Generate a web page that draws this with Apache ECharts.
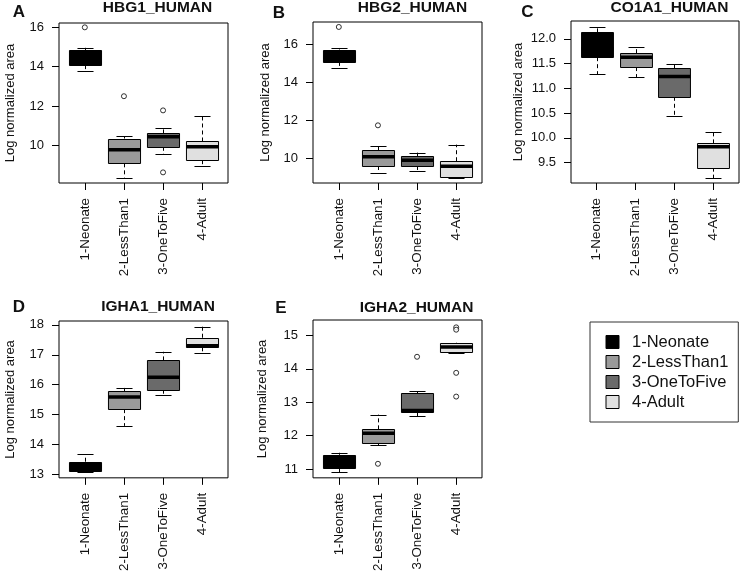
<!DOCTYPE html>
<html>
<head>
<meta charset="utf-8">
<script src="https://cdn.jsdelivr.net/npm/echarts@6/dist/echarts.min.js"></script>
<style>html,body{margin:0;padding:0;background:#fff}#c{width:740px;height:574px}</style>
</head>
<body>
<div id="c"></div>
<script>
// ---- data ----
const groups = ['1-Neonate', '2-LessThan1', '3-OneToFive', '4-Adult'];
const groupColors = ['#000000', '#9a9a9a', '#6a6a6a', '#e0e0e0'];
const panelTitles = ['HBG1_HUMAN', 'HBG2_HUMAN', 'CO1A1_HUMAN', 'IGHA1_HUMAN', 'IGHA2_HUMAN'];
const panelLetters = ['A', 'B', 'C', 'D', 'E'];
const yLabel = 'Log normalized area';

// box stats per group: [lower whisker, Q1, median, Q3, upper whisker]
const hbg1Stats = [[13.78, 14.08, 14.2, 14.85, 14.96], [8.36, 9.09, 9.78, 10.35, 10.47], [9.54, 9.93, 10.44, 10.61, 10.86], [8.96, 9.25, 9.93, 10.2, 11.5]];
const hbg2Stats = [[14.74, 15.06, 15.3, 15.71, 15.79], [9.25, 9.61, 10.1, 10.43, 10.66], [9.34, 9.61, 9.91, 10.12, 10.31], [8.98, 9.04, 9.6, 9.86, 10.73]];
const co1a1Stats = [[11.29, 11.63, 11.8, 12.13, 12.24], [11.23, 11.43, 11.63, 11.71, 11.83], [10.44, 10.83, 11.24, 11.41, 11.49], [9.19, 9.40, 9.82, 9.89, 10.12]];
const igha1Stats = [[13.07, 13.10, 13.25, 13.42, 13.67], [14.62, 15.18, 15.59, 15.78, 15.89], [15.64, 15.83, 16.25, 16.81, 17.1], [17.06, 17.25, 17.30, 17.57, 17.94]];
const igha2Stats = [[10.91, 11.03, 11.2, 11.43, 11.49], [11.72, 11.78, 12.07, 12.19, 12.63], [12.58, 12.70, 12.75, 13.27, 13.33], [14.47, 14.49, 14.65, 14.76, 14.78]];

// outliers: [group number, value]
const hbg1Outliers = [[1, 16.0], [2, 12.5], [3, 11.78], [3, 8.63]];
const hbg2Outliers = [[1, 16.89], [2, 11.74]];
const co1a1Outliers = [];
const igha1Outliers = [];
const igha2Outliers = [[2, 11.16], [3, 14.36], [4, 15.24], [4, 15.17], [4, 13.88], [4, 13.17]];

// y axis ranges and ticks
const yRanges = [[8.09, 16.22], [8.72, 17.15], [9.09, 12.36], [12.88, 18.13], [10.74, 15.46]];
const yTicks = [[10, 12, 14, 16], [10, 12, 14, 16], [9.5, 10, 10.5, 11, 11.5, 12], [13, 14, 15, 16, 17, 18], [11, 12, 13, 14, 15]];
const yTickDecimals = [0, 0, 1, 0, 0];

const allStats = [hbg1Stats, hbg2Stats, co1a1Stats, igha1Stats, igha2Stats];
const allOutliers = [hbg1Outliers, hbg2Outliers, co1a1Outliers, igha1Outliers, igha2Outliers];

// ---- layout (styling only) ----
const FONT = 'Liberation Sans, Arial, Helvetica, sans-serif';
const grids = [
  {left: 59, top: 23, width: 169, height: 160},
  {left: 313, top: 22, width: 169, height: 161},
  {left: 571, top: 21, width: 168, height: 162},
  {left: 59, top: 321, width: 169, height: 162},
  {left: 313, top: 320, width: 169, height: 163}
];
const nameGaps = [42.5, 41.5, 46.5, 42.5, 44.5];
const titlePos = [[157.5, 7.5], [412.5, 7.5], [669.5, 7.5], [158, 307], [416.5, 308]];
const letterPos = [[19, 12.5], [279, 13], [527.5, 12.5], [19, 307], [281, 308]];

const BOX_W = 0.82;
const STAPLE_W = 0.41;

function renderBox(params, api) {
  const x = api.value(0);
  const lo = api.coord([x, api.value(1)]);
  const q1 = api.coord([x, api.value(2)]);
  const md = api.coord([x, api.value(3)]);
  const q3 = api.coord([x, api.value(4)]);
  const hi = api.coord([x, api.value(5)]);
  const bw = api.size([BOX_W, 0])[0];
  const sw = api.size([STAPLE_W, 0])[0];
  const cx = Math.round(lo[0]) + 0.5;
  const fill = api.visual('color');
  const ln = {stroke: '#000', lineWidth: 1};
  const dash = {stroke: '#000', lineWidth: 1, lineDash: [4, 3]};
  return {
    type: 'group',
    children: [
      {type: 'line', shape: {x1: cx, y1: q3[1], x2: cx, y2: hi[1]}, style: dash},
      {type: 'line', shape: {x1: cx, y1: q1[1], x2: cx, y2: lo[1]}, style: dash},
      {type: 'line', shape: {x1: cx - sw / 2, y1: Math.round(hi[1]) + 0.5, x2: cx + sw / 2, y2: Math.round(hi[1]) + 0.5}, style: ln},
      {type: 'line', shape: {x1: cx - sw / 2, y1: Math.round(lo[1]) + 0.5, x2: cx + sw / 2, y2: Math.round(lo[1]) + 0.5}, style: ln},
      {type: 'rect', shape: {x: cx - bw / 2, y: Math.round(q3[1]) + 0.5, width: bw, height: Math.round(q1[1]) - Math.round(q3[1])}, style: {fill: fill, stroke: '#000', lineWidth: 1}},
      {type: 'line', shape: {x1: cx - bw / 2, y1: md[1], x2: cx + bw / 2, y2: md[1]}, style: {stroke: '#000', lineWidth: 3.5}}
    ]
  };
}

const gridOpts = [], xAxes = [], yAxes = [], series = [], graphics = [];
for (let p = 0; p < 5; p++) {
  gridOpts.push(Object.assign({show: true, borderColor: '#000', borderWidth: 1, backgroundColor: 'transparent'}, grids[p]));
  xAxes.push({
    type: 'value', gridIndex: p, min: 0.34, max: 4.66,
    axisLine: {show: false}, splitLine: {show: false},
    axisTick: {show: true, customValues: [1, 2, 3, 4], length: 7, lineStyle: {color: '#000'}},
    axisLabel: {show: true, customValues: [1, 2, 3, 4], rotate: 90, margin: 15, color: '#111',
      fontFamily: FONT, fontSize: 13.4, formatter: v => groups[Math.round(v) - 1]}
  });
  const dec = yTickDecimals[p];
  yAxes.push({
    type: 'value', gridIndex: p, min: yRanges[p][0], max: yRanges[p][1],
    axisLine: {show: false}, splitLine: {show: false},
    axisTick: {show: true, customValues: yTicks[p], length: 7, lineStyle: {color: '#000'}},
    axisLabel: {show: true, customValues: yTicks[p], margin: 15, color: '#111', fontFamily: FONT, fontSize: 13,
      formatter: v => Number(v).toFixed(dec)},
    name: yLabel, nameLocation: 'middle', nameRotate: 90, nameGap: nameGaps[p],
    nameTextStyle: {fontFamily: FONT, fontSize: 13, color: '#111'}
  });
  allStats[p].forEach((s, g) => {
    series.push({
      type: 'custom', name: groups[g], xAxisIndex: p, yAxisIndex: p,
      itemStyle: {color: groupColors[g]},
      renderItem: renderBox,
      encode: {x: 0, y: [1, 2, 3, 4, 5]},
      data: [[g + 1].concat(s)],
      z: 2
    });
  });
  series.push({
    type: 'scatter', name: 'outliers' + p, xAxisIndex: p, yAxisIndex: p,
    symbol: 'circle', symbolSize: 5,
    itemStyle: {color: '#fff', borderColor: '#000', borderWidth: 1},
    data: allOutliers[p], z: 3
  });
  graphics.push({type: 'text', x: titlePos[p][0], y: titlePos[p][1],
    style: {text: panelTitles[p], font: 'bold 15.5px ' + FONT, fill: '#111', align: 'center', verticalAlign: 'middle', textAlign: 'center', textVerticalAlign: 'middle'}});
  graphics.push({type: 'text', x: letterPos[p][0], y: letterPos[p][1],
    style: {text: panelLetters[p], font: 'bold 17px ' + FONT, fill: '#111', align: 'center', verticalAlign: 'middle', textAlign: 'center', textVerticalAlign: 'middle'}});
}

const chart = echarts.init(document.getElementById('c'), null, {renderer: 'canvas'});
chart.setOption({
  animation: false,
  backgroundColor: '#fff',
  grid: gridOpts,
  xAxis: xAxes,
  yAxis: yAxes,
  legend: {
    data: groups.map(n => ({name: n, icon: 'rect'})),
    orient: 'vertical', left: 590, top: 322,
    itemWidth: 13, itemHeight: 13, itemGap: 3,
    padding: [11.5, 10, 11.5, 15.5],
    borderColor: '#333', borderWidth: 1,
    itemStyle: {borderColor: '#000', borderWidth: 1},
    textStyle: {fontFamily: FONT, fontSize: 16.5, color: '#111', padding: [0, 0, 0, 8]},
    selectedMode: false
  },
  graphic: graphics,
  series: series
});
</script>
</body>
</html>
